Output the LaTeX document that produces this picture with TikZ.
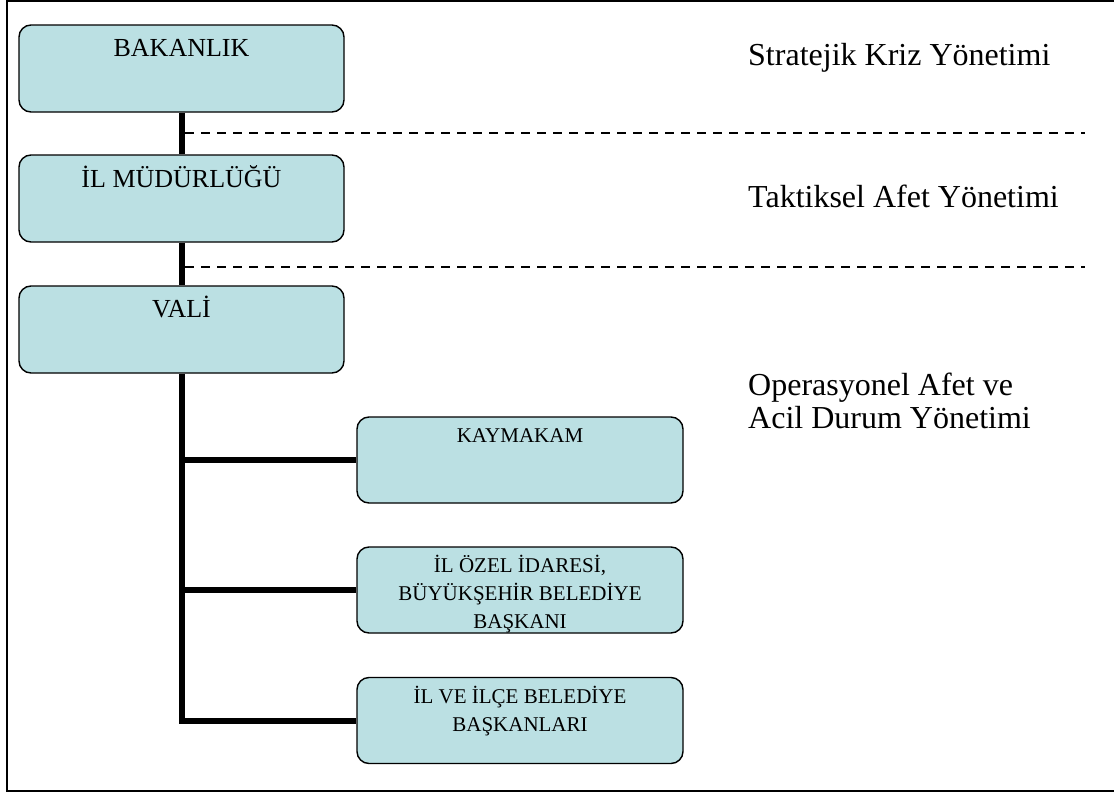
\documentclass[tikz,border=0pt]{standalone}
\usepackage{fontspec}
\setmainfont{Liberation Serif}
\begin{document}
\begin{tikzpicture}[x=1pt,y=-1pt,
  orgbox/.style={draw=black, line width=1.4pt, fill=boxfill, rounded corners=12pt,
    minimum width=325pt, minimum height=87pt, inner sep=0pt},
  subbox/.style={orgbox, minimum width=326pt, minimum height=86pt},
  bigtext/.style={font=\fontsize{26}{30}\selectfont, anchor=base, inner sep=0pt},
  smalltext/.style={font=\fontsize{21}{28}\selectfont, anchor=base, align=center, inner sep=0pt},
  leveltext/.style={font=\fontsize{32}{33}\selectfont, anchor=base west, align=left, inner sep=0pt},
  trunk/.style={line width=6pt},
  levelline/.style={line width=1.4pt, dash pattern=on 9pt off 7pt}]
\definecolor{boxfill}{RGB}{187,224,227}
\useasboundingbox (0,0) rectangle (1114,795);
\fill[white] (0,0) rectangle (1114,795);

% outer frame (open on the right)
\draw[line width=2pt] (1120,1) -- (7,1) -- (7,791) -- (1120,791);

% main chain
\node[orgbox] (bak)  at (181.5,68.5) {};
\node[orgbox] (mud)  at (181.5,198.5) {};
\node[orgbox] (vali) at (181.5,329.5) {};
\node[bigtext] (bakt)  at (181.5,56)  {BAKANLIK};
\node[bigtext] (mudt)  at (181.5,187) {İL MÜDÜRLÜĞÜ};
\node[bigtext] (valit) at (181.5,317) {VALİ};

% subordinate units (multi-line labels are placed by their last baseline)
\node[subbox] (kay) at (520,460) {};
\node[subbox] (ioz) at (520,590) {};
\node[subbox] (bel) at (520,720.5) {};
\node[smalltext] (kayt) at (520,442) {KAYMAKAM};
\node[smalltext] (iozt) at (520,628) {İL ÖZEL İDARESİ,\\BÜYÜKŞEHİR BELEDİYE\\BAŞKANI};
\node[smalltext] (belt) at (520,731) {İL VE İLÇE BELEDİYE\\BAŞKANLARI};

% connectors
\draw[trunk] (bak.south) -- (mud.north);
\draw[trunk] (mud.south) -- (vali.north);
\draw[trunk] (vali.south) |- (bel.west);
\draw[trunk] (kay.west) -- (kay.west -| vali.south);
\draw[trunk] (ioz.west) -- (ioz.west -| vali.south);

% level separators
\coordinate (s1a) at (185,133);
\coordinate (s1b) at (1085,133);
\coordinate (s2a) at (185,267);
\coordinate (s2b) at (1085,267);
\draw[levelline] (s1a) -- (s1b);
\draw[levelline] (s2a) -- (s2b);

% level labels
\node[leveltext] (lv1) at (748,65)  {Stratejik Kriz Yönetimi};
\node[leveltext] (lv2) at (748,207) {Taktiksel Afet Yönetimi};
\node[leveltext] (lv3) at (748,428) {Operasyonel Afet ve\\Acil Durum Yönetimi};
\end{tikzpicture}
\end{document}
